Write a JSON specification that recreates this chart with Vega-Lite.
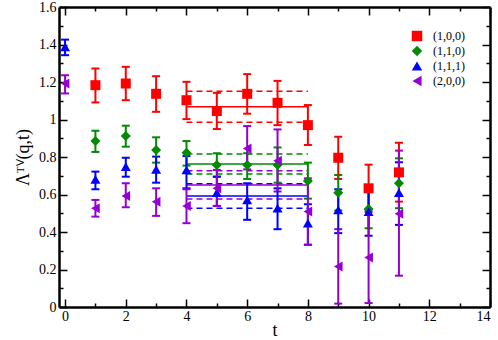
{
  "$schema": "https://vega.github.io/schema/vega-lite/v6.json",
  "width": 431,
  "height": 300,
  "autosize": {"type": "none"},
  "padding": {"left": 59, "top": 7, "right": 8, "bottom": 33},
  "background": "white",
  "config": {
    "view": {"stroke": null},
    "font": "Liberation Serif",
    "axis": {"domain": true, "domainColor": "#000000", "domainWidth": 2.5, "domainOpacity": 1, "grid": false, "tickColor": "#000000", "tickOpacity": 1, "tickWidth": 1.5, "labelColor": "#000000", "titleColor": "#000000", "labelFont": "Liberation Serif", "titleFont": "Liberation Serif", "labelFontSize": 14, "titleFontSize": 18, "titleFontWeight": "normal"}
  },
  "datasets": {
    "pts": [
      {"series": "(1,0,0)", "t": 1, "v": 1.183, "lo": 1.091, "hi": 1.272},
      {"series": "(1,0,0)", "t": 2, "v": 1.192, "lo": 1.103, "hi": 1.281},
      {"series": "(1,0,0)", "t": 3, "v": 1.137, "lo": 1.041, "hi": 1.231},
      {"series": "(1,0,0)", "t": 4, "v": 1.103, "lo": 1.002, "hi": 1.201},
      {"series": "(1,0,0)", "t": 5, "v": 1.045, "lo": 0.949, "hi": 1.142},
      {"series": "(1,0,0)", "t": 6, "v": 1.137, "lo": 1.031, "hi": 1.242},
      {"series": "(1,0,0)", "t": 7, "v": 1.089, "lo": 0.970, "hi": 1.206},
      {"series": "(1,0,0)", "t": 8, "v": 0.970, "lo": 0.864, "hi": 1.077},
      {"series": "(1,0,0)", "t": 9, "v": 0.796, "lo": 0.683, "hi": 0.908},
      {"series": "(1,0,0)", "t": 10, "v": 0.633, "lo": 0.507, "hi": 0.759},
      {"series": "(1,0,0)", "t": 11, "v": 0.718, "lo": 0.562, "hi": 0.876},
      {"series": "(1,1,0)", "t": 1, "v": 0.885, "lo": 0.827, "hi": 0.940},
      {"series": "(1,1,0)", "t": 2, "v": 0.912, "lo": 0.855, "hi": 0.967},
      {"series": "(1,1,0)", "t": 3, "v": 0.837, "lo": 0.770, "hi": 0.905},
      {"series": "(1,1,0)", "t": 4, "v": 0.823, "lo": 0.754, "hi": 0.885},
      {"series": "(1,1,0)", "t": 5, "v": 0.757, "lo": 0.695, "hi": 0.820},
      {"series": "(1,1,0)", "t": 6, "v": 0.757, "lo": 0.683, "hi": 0.820},
      {"series": "(1,1,0)", "t": 7, "v": 0.757, "lo": 0.663, "hi": 0.851},
      {"series": "(1,1,0)", "t": 8, "v": 0.672, "lo": 0.578, "hi": 0.770},
      {"series": "(1,1,0)", "t": 9, "v": 0.610, "lo": 0.515, "hi": 0.704},
      {"series": "(1,1,0)", "t": 10, "v": 0.523, "lo": 0.420, "hi": 0.624},
      {"series": "(1,1,0)", "t": 11, "v": 0.660, "lo": 0.527, "hi": 0.793},
      {"series": "(1,1,1)", "t": 0, "v": 1.387, "lo": 1.343, "hi": 1.426},
      {"series": "(1,1,1)", "t": 1, "v": 0.681, "lo": 0.628, "hi": 0.722},
      {"series": "(1,1,1)", "t": 2, "v": 0.749, "lo": 0.695, "hi": 0.796},
      {"series": "(1,1,1)", "t": 3, "v": 0.734, "lo": 0.663, "hi": 0.802},
      {"series": "(1,1,1)", "t": 4, "v": 0.731, "lo": 0.633, "hi": 0.805},
      {"series": "(1,1,1)", "t": 5, "v": 0.610, "lo": 0.539, "hi": 0.695},
      {"series": "(1,1,1)", "t": 6, "v": 0.571, "lo": 0.465, "hi": 0.660},
      {"series": "(1,1,1)", "t": 7, "v": 0.527, "lo": 0.415, "hi": 0.633},
      {"series": "(1,1,1)", "t": 8, "v": 0.447, "lo": 0.332, "hi": 0.548},
      {"series": "(1,1,1)", "t": 9, "v": 0.518, "lo": 0.394, "hi": 0.628},
      {"series": "(1,1,1)", "t": 10, "v": 0.509, "lo": 0.380, "hi": 0.628},
      {"series": "(1,1,1)", "t": 11, "v": 0.610, "lo": 0.438, "hi": 0.772},
      {"series": "(2,0,0)", "t": 0, "v": 1.192, "lo": 1.139, "hi": 1.236},
      {"series": "(2,0,0)", "t": 1, "v": 0.527, "lo": 0.482, "hi": 0.571},
      {"series": "(2,0,0)", "t": 2, "v": 0.592, "lo": 0.532, "hi": 0.660},
      {"series": "(2,0,0)", "t": 3, "v": 0.561, "lo": 0.486, "hi": 0.633},
      {"series": "(2,0,0)", "t": 4, "v": 0.539, "lo": 0.447, "hi": 0.628},
      {"series": "(2,0,0)", "t": 5, "v": 0.633, "lo": 0.539, "hi": 0.731},
      {"series": "(2,0,0)", "t": 6, "v": 0.846, "lo": 0.734, "hi": 0.965},
      {"series": "(2,0,0)", "t": 7, "v": 0.780, "lo": 0.616, "hi": 0.947},
      {"series": "(2,0,0)", "t": 8, "v": 0.509, "lo": 0.332, "hi": 0.686},
      {"series": "(2,0,0)", "t": 9, "v": 0.216, "lo": 0.018, "hi": 0.415},
      {"series": "(2,0,0)", "t": 10, "v": 0.264, "lo": 0.021, "hi": 0.518},
      {"series": "(2,0,0)", "t": 11, "v": 0.497, "lo": 0.167, "hi": 0.834}
    ],
    "fits": [
      {"series": "(1,0,0)", "kind": "fit", "y": 1.068, "t0": 4, "t1": 8},
      {"series": "(1,0,0)", "kind": "upper", "y": 1.151, "t0": 4, "t1": 8},
      {"series": "(1,0,0)", "kind": "lower", "y": 0.986, "t0": 4, "t1": 8},
      {"series": "(1,1,0)", "kind": "fit", "y": 0.763, "t0": 4, "t1": 8},
      {"series": "(1,1,0)", "kind": "upper", "y": 0.816, "t0": 4, "t1": 8},
      {"series": "(1,1,0)", "kind": "lower", "y": 0.710, "t0": 4, "t1": 8},
      {"series": "(1,1,1)", "kind": "fit", "y": 0.592, "t0": 4, "t1": 8},
      {"series": "(1,1,1)", "kind": "upper", "y": 0.657, "t0": 4, "t1": 8},
      {"series": "(1,1,1)", "kind": "lower", "y": 0.527, "t0": 4, "t1": 8},
      {"series": "(2,0,0)", "kind": "fit", "y": 0.651, "t0": 4, "t1": 8},
      {"series": "(2,0,0)", "kind": "upper", "y": 0.727, "t0": 4, "t1": 8},
      {"series": "(2,0,0)", "kind": "lower", "y": 0.576, "t0": 4, "t1": 8}
    ]
  },
  "resolve": {"axis": {"x": "independent", "y": "independent"}},
  "layer": [
    {
      "data": {"name": "fits"},
      "mark": {"type": "rule", "strokeWidth": 1.5},
      "encoding": {
        "x": {"field": "t0", "type": "quantitative", "scale": {"domain": [-0.2, 14], "nice": false, "zero": false},
          "axis": {"orient": "bottom", "domainColor": "#000000", "tickColor": "#000000", "values": [0,1,2,3,4,5,6,7,8,9,10,11,12,13,14], "tickSize": {"condition": {"test": "datum.value % 2 === 0", "value": -8}, "value": -4}, "labelExpr": "datum.value % 2 === 0 ? datum.label : ''", "labelPadding": 10, "title": "t", "titlePadding": -2}},
        "x2": {"field": "t1"},
        "y": {"field": "y", "type": "quantitative", "scale": {"domain": [0, 1.6], "nice": false},
          "axis": {"orient": "left", "domainColor": "#000000", "tickColor": "#000000", "values": [0,0.1,0.2,0.3,0.4,0.5,0.6,0.7,0.8,0.9,1,1.1,1.2,1.3,1.4,1.5,1.6], "format": "~g", "tickSize": {"condition": {"test": "round(datum.value*10) % 2 === 0", "value": -8}, "value": -4}, "labelExpr": "round(datum.value*10) % 2 === 0 ? datum.label : ''", "labelPadding": 11, "title": "Λᵀⱽ(q,t)", "titlePadding": 6}},
        "color": {"field": "series", "type": "nominal", "scale": {"domain": ["(1,0,0)", "(1,1,0)", "(1,1,1)", "(2,0,0)"], "range": ["#ff0000", "#008b00", "#0000ff", "#9400d3"]}},
        "strokeDash": {"field": "kind", "type": "nominal", "scale": {"domain": ["fit", "upper", "lower"], "range": [[1, 0], [6, 4], [6, 4]]}, "legend": null}
      }
    },
    {
      "data": {"name": "pts"},
      "mark": {"type": "errorbar", "ticks": {"size": 8}, "thickness": 2, "opacity": 1},
      "encoding": {
        "x": {"field": "t", "type": "quantitative", "axis": {"orient": "top", "domainColor": "#000000", "tickColor": "#000000", "values": [0,1,2,3,4,5,6,7,8,9,10,11,12,13,14], "tickSize": {"condition": {"test": "datum.value % 2 === 0", "value": -8}, "value": -4}, "labels": false, "title": null}},
        "y": {"field": "lo", "type": "quantitative", "axis": {"orient": "right", "domainColor": "#000000", "tickColor": "#000000", "values": [0,0.1,0.2,0.3,0.4,0.5,0.6,0.7,0.8,0.9,1,1.1,1.2,1.3,1.4,1.5,1.6], "tickSize": {"condition": {"test": "round(datum.value*10) % 2 === 0", "value": -8}, "value": -4}, "labels": false, "title": null}},
        "y2": {"field": "hi"},
        "color": {"field": "series", "type": "nominal"}
      }
    },
    {
      "data": {"name": "pts"},
      "mark": {"type": "point", "filled": true, "opacity": 1, "size": 100},
      "encoding": {
        "x": {"field": "t", "type": "quantitative", "axis": null},
        "y": {"field": "v", "type": "quantitative", "axis": null},
        "color": {"field": "series", "type": "nominal", "legend": {"title": null, "orient": "none", "legendX": 352, "legendY": 23, "labelFontSize": 12, "labelFont": "Liberation Serif", "labelColor": "black", "labelOffset": 10, "symbolSize": 110, "symbolStrokeWidth": 0, "symbolOpacity": 1, "rowPadding": 3, "padding": 0}},
        "shape": {"field": "series", "type": "nominal", "scale": {"domain": ["(1,0,0)", "(1,1,0)", "(1,1,1)", "(2,0,0)"], "range": ["square", "diamond", "triangle-up", "triangle-left"]}, "legend": {"title": null, "orient": "none", "legendX": 352, "legendY": 23, "labelFontSize": 12, "labelFont": "Liberation Serif", "labelColor": "black", "labelOffset": 10, "symbolSize": 110, "symbolStrokeWidth": 0, "symbolOpacity": 1, "rowPadding": 3, "padding": 0}}
      }
    }
  ]
}
